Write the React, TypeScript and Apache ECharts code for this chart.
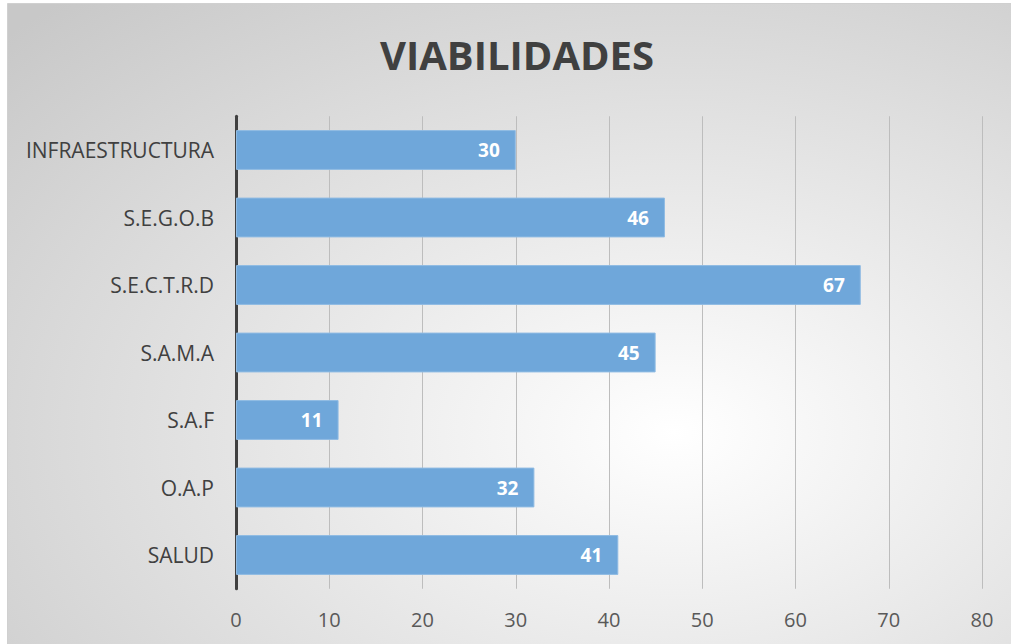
import React, { useEffect, useRef } from "react";
import * as echarts from "echarts";

const titleText = "VIABILIDADES";
const categories = ["INFRAESTRUCTURA", "S.E.G.O.B", "S.E.C.T.R.D", "S.A.M.A", "S.A.F", "O.A.P", "SALUD"];
const values = [30, 46, 67, 45, 11, 32, 41];
const axisMin = 0;
const axisMax = 80;
const axisStep = 10;

export default function App() {
  const ref = useRef<HTMLDivElement>(null);
  useEffect(() => {
    document.body.style.margin = "0";
    const chart = echarts.init(ref.current!, undefined, { renderer: "svg" });
    const font = "'Open Sans', sans-serif";
    chart.setOption({
      animation: false,
      backgroundColor: "#ffffff",
      graphic: [
        {
          type: "rect",
          z: -10,
          silent: true,
          shape: { x: 7.5, y: 3.5, width: 1010, height: 650 },
          style: {
            fill: new echarts.graphic.RadialGradient(0.66, 0.66, 0.9, [
              { offset: 0, color: "#ffffff" },
              { offset: 1, color: "#c8c8c8" },
            ]),
            stroke: "#d0d0d0",
            lineWidth: 1,
          },
        },
        {
          type: "text",
          x: 517,
          y: 54,
          style: {
            text: titleText,
            fontFamily: font,
            fontWeight: "bold",
            fontSize: 40,
            fill: "#404040",
            textAlign: "center",
            textVerticalAlign: "middle",
          },
        },
      ],
      grid: {
        left: 236,
        right: 29,
        top: 116.25,
        bottom: 55.25,
        outerBoundsMode: "none",
        containLabel: false,
      },
      xAxis: {
        type: "value",
        min: axisMin,
        max: axisMax,
        interval: axisStep,
        axisLine: { show: false },
        axisTick: { show: false },
        splitLine: { show: true, lineStyle: { color: "#bdbdbd", width: 1 } },
        axisLabel: { color: "#595959", fontSize: 20, fontFamily: font, margin: 21 },
      },
      yAxis: {
        type: "category",
        data: categories,
        inverse: true,
        axisLine: { show: true, lineStyle: { color: "#404040", width: 3 } },
        axisTick: { show: false },
        splitLine: { show: false },
        axisLabel: { color: "#404040", fontSize: 21, fontFamily: font, margin: 22 },
      },
      series: [
        {
          type: "bar",
          data: values,
          barCategoryGap: "41%",
          itemStyle: { color: "#6fa7da", borderColor: "#8fbbe3", borderWidth: 1 },
          label: {
            show: true,
            position: "insideRight",
            distance: 16,
            color: "#ffffff",
            fontWeight: "bold",
            fontSize: 19,
            fontFamily: font,
          },
        },
      ],
    });
    return () => chart.dispose();
  }, []);
  return <div ref={ref} style={{ position: "absolute", left: 0, top: 0, width: 1011, height: 644 }} />;
}
